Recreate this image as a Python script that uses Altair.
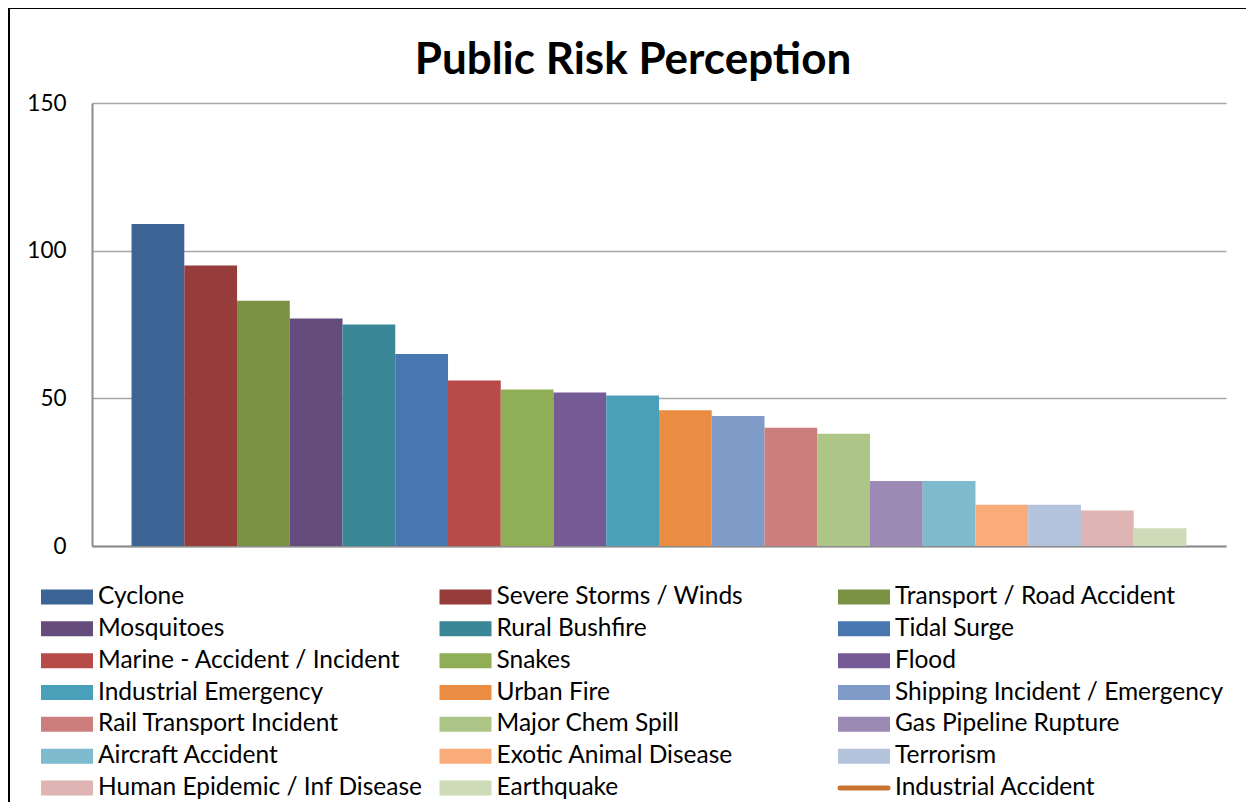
import altair as alt
import pandas as pd

categories = [
    "Cyclone", "Severe Storms / Winds", "Transport / Road Accident", "Mosquitoes",
    "Rural Bushfire", "Tidal Surge", "Marine - Accident / Incident", "Snakes",
    "Flood", "Industrial Emergency", "Urban Fire", "Shipping Incident / Emergency",
    "Rail Transport Incident", "Major Chem Spill", "Gas Pipeline Rupture",
    "Aircraft Accident", "Exotic Animal Disease", "Terrorism",
    "Human Epidemic / Inf Disease", "Earthquake",
]
values = [109, 95, 83, 77, 75, 65, 56, 53, 52, 51, 46, 44, 40, 38, 22, 22, 14, 14, 12, 6]
colors = [
    "#3C6494", "#963C3B", "#7A9243", "#644C7C", "#398797", "#4876B0", "#B74B49",
    "#8FAE55", "#755B96", "#4AA0B8", "#EA8D42", "#7F9CC8", "#CC7E7C", "#ADC688",
    "#9C8AB4", "#7EBBCF", "#F9AB7A", "#B4C3DC", "#DFB4B4", "#CDDBB8",
]
line_series = "Industrial Accident"
line_color = "#C8732F"
y_ticks = [0, 50, 100, 150]
title_text = ["Public Risk Perception"]

FONT = "Lato"

bars_df = pd.DataFrame({"name": categories, "value": values})

legend_names = categories + [line_series]
legend_df = pd.DataFrame({
    "name": legend_names,
    "idx": list(range(len(legend_names))),
    "kind": ["bar"] * len(categories) + ["line"],
})
legend_df["row"] = legend_df["idx"] // 3
legend_df["col"] = legend_df["idx"] % 3

title_df = pd.DataFrame({"t": title_text})

color_scale = alt.Scale(domain=categories, range=colors)

bars = alt.Chart(bars_df).mark_bar(stroke=None).encode(
    x=alt.X("name:N", sort=categories,
            scale=alt.Scale(paddingInner=0, paddingOuter=0.75),
            axis=alt.Axis(labels=False, ticks=False, title=None, grid=False,
                          domainColor="#8C8C8C", domainWidth=2)),
    y=alt.Y("value:Q", scale=alt.Scale(domain=[0, 150], nice=False),
            axis=alt.Axis(values=y_ticks, tickSize=0, labelFontSize=22.5, labelFont=FONT,
                          labelColor="black", labelPadding=26, title=None,
                          domainColor="#8C8C8C", domainWidth=2,
                          gridColor="#A6A6A6", gridWidth=1.5)),
    color=alt.Color("name:N", scale=color_scale, legend=None),
)

lx = alt.X("col:Q", scale=alt.Scale(domain=[0, 2], range=[-51, 746]), axis=None)
ly = alt.Y("row:Q", scale=alt.Scale(domain=[0, 6], range=[494, 685]), axis=None)

sym = alt.Chart(legend_df).transform_filter(alt.datum.kind == "bar").mark_point(
    shape="M0,-0.75H5.2V0.75H0Z", size=400, filled=True, opacity=1, strokeWidth=0
).encode(x=lx, y=ly, color=alt.Color("name:N", scale=color_scale, legend=None))

line_sym = alt.Chart(legend_df).transform_filter(alt.datum.kind == "line").mark_point(
    shape="M0.2,0H5.0", size=400, filled=False, opacity=1, stroke=line_color,
    strokeWidth=5, strokeCap="round"
).encode(x=lx, y=ly)

txt = alt.Chart(legend_df).mark_text(
    align="left", baseline="middle", dx=57, font=FONT, fontSize=24.5, color="black"
).encode(x=lx, y=ly, text="name:N")

title = alt.Chart(title_df).mark_text(
    align="center", baseline="alphabetic", font=FONT, fontSize=44, fontWeight="bold",
    color="black"
).encode(x=alt.value(541), y=alt.value(-29), text="t:N")

border_left = alt.Chart(bars_df).mark_rule(color="black", strokeWidth=2).encode(
    x=alt.value(-83), y=alt.value(-95), y2=alt.value(720))
border_top = alt.Chart(bars_df).mark_rule(color="black", strokeWidth=2).encode(
    x=alt.value(-83), x2=alt.value(1200), y=alt.value(-95))

legend_layer = alt.layer(sym, line_sym, txt)

chart = alt.layer(bars, legend_layer, title, border_left, border_top).resolve_scale(
    x="independent", y="independent"
).properties(
    width=1134, height=443,
    autosize=alt.AutoSizeParams(type="none"),
    padding={"left": 84, "top": 95, "right": 20, "bottom": 256},
).configure_view(stroke=None)

chart.save("out.html", embed_options={"renderer": "svg", "actions": False})
